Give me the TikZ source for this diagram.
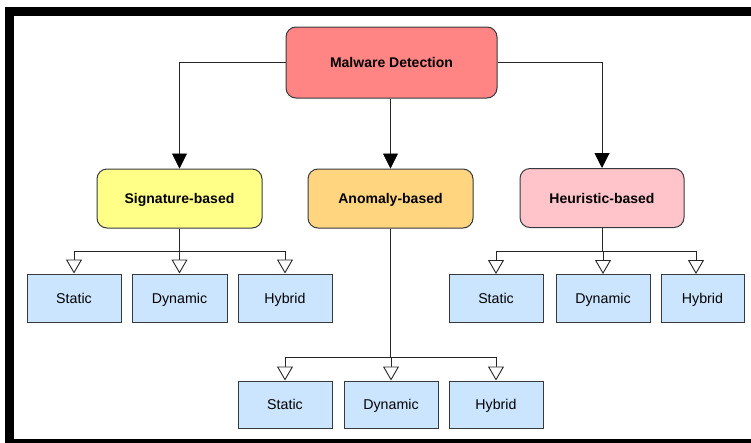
\documentclass[tikz,border=0pt]{standalone}
\usepackage{fontspec}
\setmainfont{Liberation Sans}
\usetikzlibrary{arrows.meta}
\definecolor{bordc}{HTML}{36393D}
\definecolor{malc}{HTML}{FF8585}
\definecolor{sigc}{HTML}{FFFF88}
\definecolor{anoc}{HTML}{FFD580}
\definecolor{heuc}{HTML}{FFC4CA}
\definecolor{leafc}{HTML}{CCE5FF}
\tikzset{
  topbox/.style={draw=bordc, line width=1pt, rounded corners=10pt, inner sep=0pt,
    text height=10pt, text depth=0pt,
    font=\fontsize{14}{16}\selectfont\bfseries},
  leafbox/.style={draw=bordc, line width=1pt, fill=leafc, inner sep=0pt,
    text height=10pt, text depth=0pt,
    minimum width=94pt, minimum height=48pt, font=\fontsize{14.2}{16}\selectfont},
  mainarrow/.style={draw=black!85, line width=0.9pt, -{Triangle[width=15pt,length=15pt,color=black]}},
  subarrow/.style={draw=black!85, line width=0.9pt, -{Triangle[open,width=16pt,length=14pt,fill=white]}}
}
\begin{document}
\begin{tikzpicture}[x=1pt,y=-1pt]
\useasboundingbox (0,0) rectangle (751,442);
\fill[white] (0,0) rectangle (751,442);
\draw[line width=9pt] (9.5,11.5) rectangle (770,443.5);

\node[topbox, fill=malc, minimum width=211pt, minimum height=71pt] (mal) at (391.5,62.5) {Malware Detection};
\node[topbox, fill=sigc, minimum width=165pt, minimum height=59pt] (sig) at (179.5,198.5) {Signature-based};
\node[topbox, fill=anoc, minimum width=165pt, minimum height=59pt] (ano) at (390.5,198.5) {Anomaly-based};
\node[topbox, fill=heuc, minimum width=164pt, minimum height=59pt] (heu) at (602,198) {Heuristic-based};

\node[leafbox] (s1) at (74,298) {Static};
\node[leafbox, minimum width=95pt] (s2) at (179.5,298) {Dynamic};
\node[leafbox] (s3) at (285,298) {Hybrid};

\node[leafbox] (h1) at (496,298.5) {Static};
\node[leafbox] (h2) at (603,298.5) {Dynamic};
\node[leafbox, minimum width=83pt] (h3) at (702.5,298.5) {Hybrid};

\node[leafbox, minimum height=47pt] (a1) at (285,404.5) {Static};
\node[leafbox, minimum height=47pt] (a2) at (391,404.5) {Dynamic};
\node[leafbox, minimum height=47pt] (a3) at (496,404.5) {Hybrid};

\coordinate (busS) at (0,251);
\coordinate (busH) at (0,251);
\coordinate (busA) at (0,357);

\draw[mainarrow] (mal.west) -| (sig.north);
\draw[mainarrow] (mal.south -| ano.north) -- (ano.north);
\draw[mainarrow] (mal.east) -| (heu.north);

\draw[subarrow] (sig.south) -- (sig.south |- busS) -| (s1.north);
\draw[subarrow] (sig.south) -- (s2.north);
\draw[subarrow] (sig.south) -- (sig.south |- busS) -| (s3.north);

\draw[subarrow] (heu.south) -- (heu.south |- busH) -| (h1.north);
\draw[subarrow] (heu.south) -- (heu.south |- busH) -| (h2.north);
\draw[subarrow] (heu.south) -- (heu.south |- busH) -| ([xshift=-6.5pt]h3.north);

\draw[subarrow] (ano.south) -- (ano.south |- busA) -| (a1.north);
\draw[subarrow] (ano.south) -- (ano.south |- busA) -| (a2.north);
\draw[subarrow] (ano.south) -- (ano.south |- busA) -| (a3.north);
\end{tikzpicture}
\end{document}
